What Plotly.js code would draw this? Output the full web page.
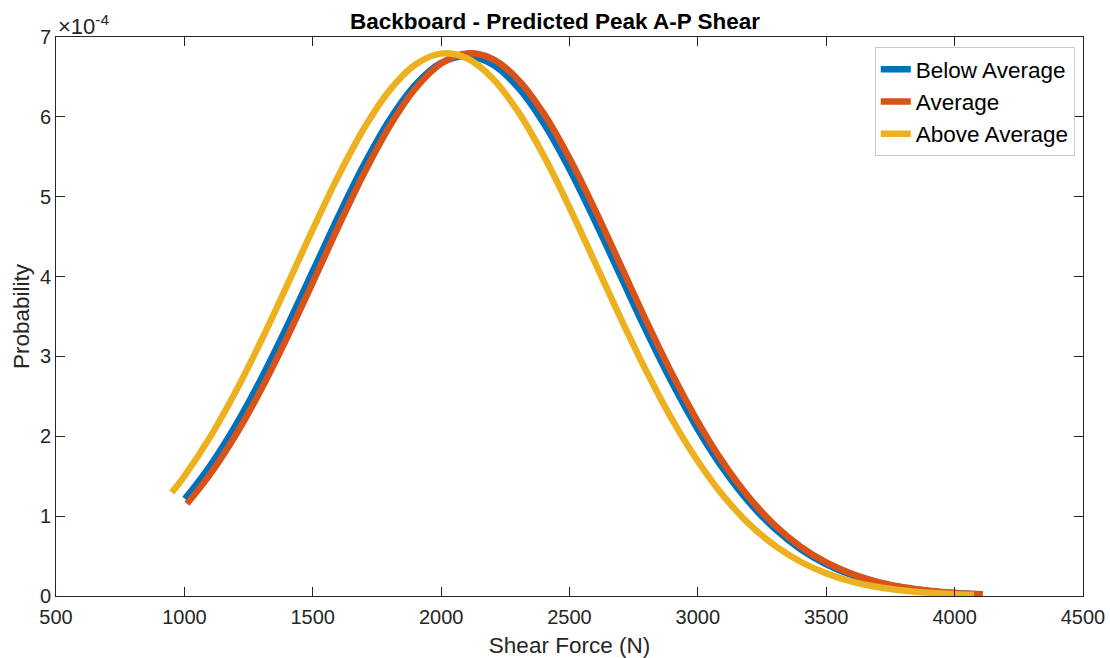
<!DOCTYPE html>
<html>
<head>
<meta charset="utf-8">
<script src="https://cdn.plot.ly/plotly-3.0.1.min.js"></script>
<style>html,body{margin:0;padding:0;background:#fff;}#chart{width:1110px;height:658px;}</style>
</head>
<body>
<div id="chart"></div>
<script>
// Shear force (N) and probability values (in units of 1e-4)
const belowX = [1002,1100,1200,1300,1400,1500,1600,1700,1800,1900,2000,2100,2200,2300,2400,2500,2600,2700,2800,2900,3000,3100,3200,3300,3400,3500,3600,3700,3800,3900,4000,4080];
const belowY = [1.216,1.631,2.140,2.728,3.379,4.067,4.756,5.405,5.968,6.403,6.675,6.762,6.656,6.366,5.916,5.343,4.688,3.998,3.311,2.666,2.085,1.585,1.171,0.840,0.586,0.397,0.261,0.167,0.104,0.0628,0.0369,0.0236];

const avgX = [1010,1100,1200,1300,1400,1500,1600,1700,1800,1900,2000,2100,2200,2300,2400,2500,2600,2700,2800,2900,3000,3100,3200,3300,3400,3500,3600,3700,3800,3900,4000,4110];
const avgY = [1.155,1.524,2.016,2.592,3.236,3.925,4.625,5.293,5.885,6.355,6.667,6.794,6.725,6.466,6.040,5.481,4.831,4.136,3.439,2.779,2.181,1.663,1.231,0.886,0.619,0.420,0.277,0.178,0.110,0.0667,0.0392,0.0211];

const aboveX = [951,1000,1100,1200,1300,1400,1500,1600,1700,1800,1900,2000,2100,2200,2300,2400,2500,2600,2700,2800,2900,3000,3100,3200,3300,3400,3500,3600,3700,3800,3900,4000,4075];
const aboveY = [1.295,1.502,1.990,2.562,3.203,3.891,4.590,5.261,5.857,6.335,6.655,6.792,6.733,6.484,6.065,5.511,4.865,4.171,3.474,2.811,2.209,1.687,1.250,0.901,0.631,0.429,0.283,0.181,0.113,0.0684,0.0403,0.0230,0.0148];

const seriesNames = ["Below Average","Average","Above Average"];
const xTicks = [500,1000,1500,2000,2500,3000,3500,4000,4500];
const yTicks = [0,1,2,3,4,5,6,7];

const FONT = "Liberation Sans, Arial, Helvetica, sans-serif";
const AX = "#262626";
const colors = ["#0072BD","#D95319","#EDB120"];

const mk = (x, y, i) => ({
  x: x, y: y, name: seriesNames[i], type: "scatter", mode: "lines",
  line: {color: colors[i], width: 6.5, shape: "spline"}
});

const data = [mk(belowX, belowY, 0), mk(avgX, avgY, 1), mk(aboveX, aboveY, 2)];

const axisCommon = {
  showline: true, linecolor: AX, linewidth: 1, mirror: "ticks",
  ticks: "inside", ticklen: 9, tickcolor: AX, tickwidth: 1,
  showgrid: false, zeroline: false,
  tickfont: {family: FONT, size: 20, color: AX}
};

const layout = {
  width: 1110, height: 658,
  margin: {l: 56, r: 27, t: 37, b: 62},
  paper_bgcolor: "#fff", plot_bgcolor: "#fff",
  showlegend: true,
  title: {text: "<b>Backboard - Predicted Peak A-P Shear</b>", font: {family: FONT, size: 22.5, color: "#000"}, x: 0.5, xanchor: "center", y: 0.968, yanchor: "middle", yref: "container"},
  xaxis: Object.assign({}, axisCommon, {
    range: [500, 4500], tickvals: xTicks, ticktext: xTicks.map(String),
    ticklabelstandoff: 3,
    title: {text: "Shear Force (N)", font: {family: FONT, size: 22.5, color: AX}, standoff: 10}
  }),
  yaxis: Object.assign({}, axisCommon, {
    range: [0, 7], tickvals: yTicks, ticktext: yTicks.map(String),
    title: {text: "Probability", font: {family: FONT, size: 22.5, color: AX}, standoff: 4}
  }),
  legend: {
    x: 0.992, y: 0.982, xanchor: "right", yanchor: "top",
    bgcolor: "#fff", bordercolor: "#c8c8c8", borderwidth: 1,
    font: {family: FONT, size: 22.5, color: "#000"},
    tracegroupgap: 0
  },
  annotations: [{
    xref: "paper", yref: "paper", x: 0, y: 1, xanchor: "left", yanchor: "bottom",
    xshift: 0, yshift: -4, showarrow: false,
    text: "×10<sup>-4</sup>", font: {family: FONT, size: 22, color: AX}
  }]
};

Plotly.newPlot("chart", data, layout, {displayModeBar: false, staticPlot: true});
</script>
</body>
</html>
